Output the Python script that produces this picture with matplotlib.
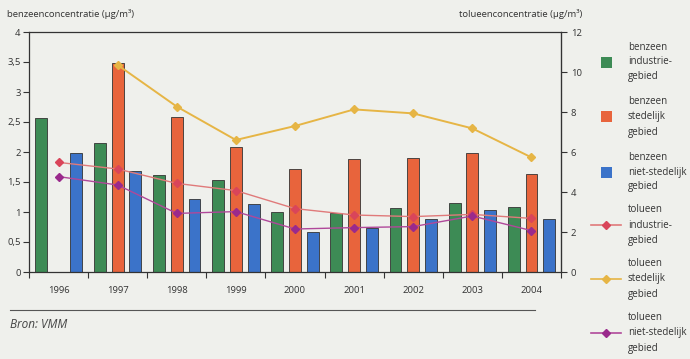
import matplotlib
matplotlib.use('Agg')
import matplotlib.pyplot as plt
from matplotlib.lines import Line2D
from matplotlib.patches import Rectangle
import numpy as np

# data
years = ['1996', '1997', '1998', '1999', '2000', '2001', '2002', '2003', '2004']
benz_ind = [2.57, 2.15, 1.62, 1.54, 1.00, 0.98, 1.06, 1.15, 1.08]
benz_sted = [np.nan, 3.48, 2.58, 2.09, 1.72, 1.88, 1.90, 1.99, 1.63]
benz_niet = [1.98, 1.69, 1.21, 1.13, 0.67, 0.74, 0.89, 1.04, 0.88]
tol_ind = [5.48, 5.15, 4.43, 4.07, 3.17, 2.85, 2.77, 2.88, 2.68]
tol_sted = [np.nan, 10.35, 8.27, 6.60, 7.30, 8.13, 7.93, 7.18, 5.73]
tol_niet = [4.77, 4.35, 2.93, 3.02, 2.15, 2.22, 2.27, 2.80, 2.07]

bg = '#eff0ec'
c_green = '#3d8b55'
c_orange = '#e8643c'
c_blue = '#3b73c9'
c_red = '#e07a7a'
c_red_m = '#d9455a'
c_yellow = '#e6b545'
c_purple = '#b0489a'
c_purple_m = '#9a2a8c'

plt.rcParams['font.family'] = ['Open Sans', 'DejaVu Sans']
plt.rcParams['font.size'] = 6.8
txt = '#333333'

fig = plt.figure(figsize=(6.9, 3.59), dpi=100, facecolor=bg)
ax = fig.add_axes([29 / 690, 87 / 359, 532 / 690, 240 / 359], facecolor=bg)

x = np.arange(len(years))
w = 0.2
ax.bar(x + 0.2, benz_ind, w, color=c_green, edgecolor='#333333', linewidth=0.6, zorder=2)
ax.bar(x + 0.5, benz_sted, w, color=c_orange, edgecolor='#333333', linewidth=0.6, zorder=2)
ax.bar(x + 0.8, benz_niet, w, color=c_blue, edgecolor='#333333', linewidth=0.6, zorder=2)

ax.set_xlim(0, len(years))
ax.set_ylim(0, 4)
ax.set_yticks([0, 0.5, 1, 1.5, 2, 2.5, 3, 3.5, 4])
ax.set_yticklabels(['0', '0,5', '1', '1,5', '2', '2,5', '3', '3,5', '4'], color=txt)
ax.set_xticks(np.arange(len(years) + 1))
ax.set_xticklabels([])
ax.set_xticks(x + 0.5, minor=True)
ax.set_xticklabels(years, minor=True, color=txt)
ax.tick_params(axis='x', which='major', length=4, width=0.8, color='#333333')
ax.tick_params(axis='x', which='minor', length=0, pad=10)
ax.tick_params(axis='y', length=4, width=0.8, color='#333333', pad=2)
for s in ax.spines.values():
    s.set_color('#333333')
    s.set_linewidth(0.9)

ax2 = ax.twinx()
ax2.set_ylim(0, 12)
ax2.set_yticks([0, 2, 4, 6, 8, 10, 12])
ax2.tick_params(axis='y', length=4, width=0.8, color='#333333', pad=3, labelcolor=txt)
ax2.plot(x + 0.5, tol_ind, color=c_red, lw=1.0, marker='D', ms=4, mfc=c_red_m, mec=c_red_m, zorder=3)
ax2.plot(x + 0.5, tol_sted, color=c_yellow, lw=1.4, marker='D', ms=4, mfc=c_yellow, mec=c_yellow, zorder=3)
ax2.plot(x + 0.5, tol_niet, color=c_purple, lw=1.0, marker='D', ms=4, mfc=c_purple_m, mec=c_purple_m, zorder=3)
for s in ax2.spines.values():
    s.set_visible(False)
ax2.spines['right'].set_visible(True)
ax2.spines['right'].set_color('#333333')

fig.text(7 / 690, 1 - 14 / 359, 'benzeenconcentratie (µg/m³)', color=txt, va='center', ha='left')
fig.text(582 / 690, 1 - 14 / 359, 'tolueenconcentratie (µg/m³)', color=txt, va='center', ha='right')

# source line
fig.add_artist(Line2D([10 / 690, 535 / 690], [1 - 310 / 359] * 2, color='#555555', lw=0.8))
fig.text(10 / 690, 1 - 325 / 359, 'Bron: VMM', style='italic', fontsize=8.5, color='#444444', va='center')

# legend
labels = ['benzeen\nindustrie-\ngebied', 'benzeen\nstedelijk\ngebied', 'benzeen\nniet-stedelijk\ngebied',
          'tolueen\nindustrie-\ngebied', 'tolueen\nstedelijk\ngebied', 'tolueen\nniet-stedelijk\ngebied']
ys = [62, 117, 172, 225, 279, 333]
sq_colors = [c_green, c_orange, c_blue]
ln_colors = [(c_red, c_red_m), (c_yellow, c_yellow), (c_purple, c_purple_m)]
for i, (lab, yy) in enumerate(zip(labels, ys)):
    fy = 1 - yy / 359
    if i < 3:
        fig.add_artist(Rectangle((601 / 690, fy - 5.5 / 359), 11 / 690, 11 / 359,
                                 facecolor=sq_colors[i], edgecolor='none'))
    else:
        lc, mc = ln_colors[i - 3]
        fig.add_artist(Line2D([591 / 690, 621 / 690], [fy, fy], color=lc, lw=1.2))
        fig.add_artist(Line2D([606 / 690], [fy], marker='D', ms=4, color=mc, lw=0))
    fig.text(628 / 690, fy, lab, color=txt, fontsize=7, va='center', ha='left', linespacing=1.5)

fig.savefig('out.png', dpi=100, facecolor=bg)
